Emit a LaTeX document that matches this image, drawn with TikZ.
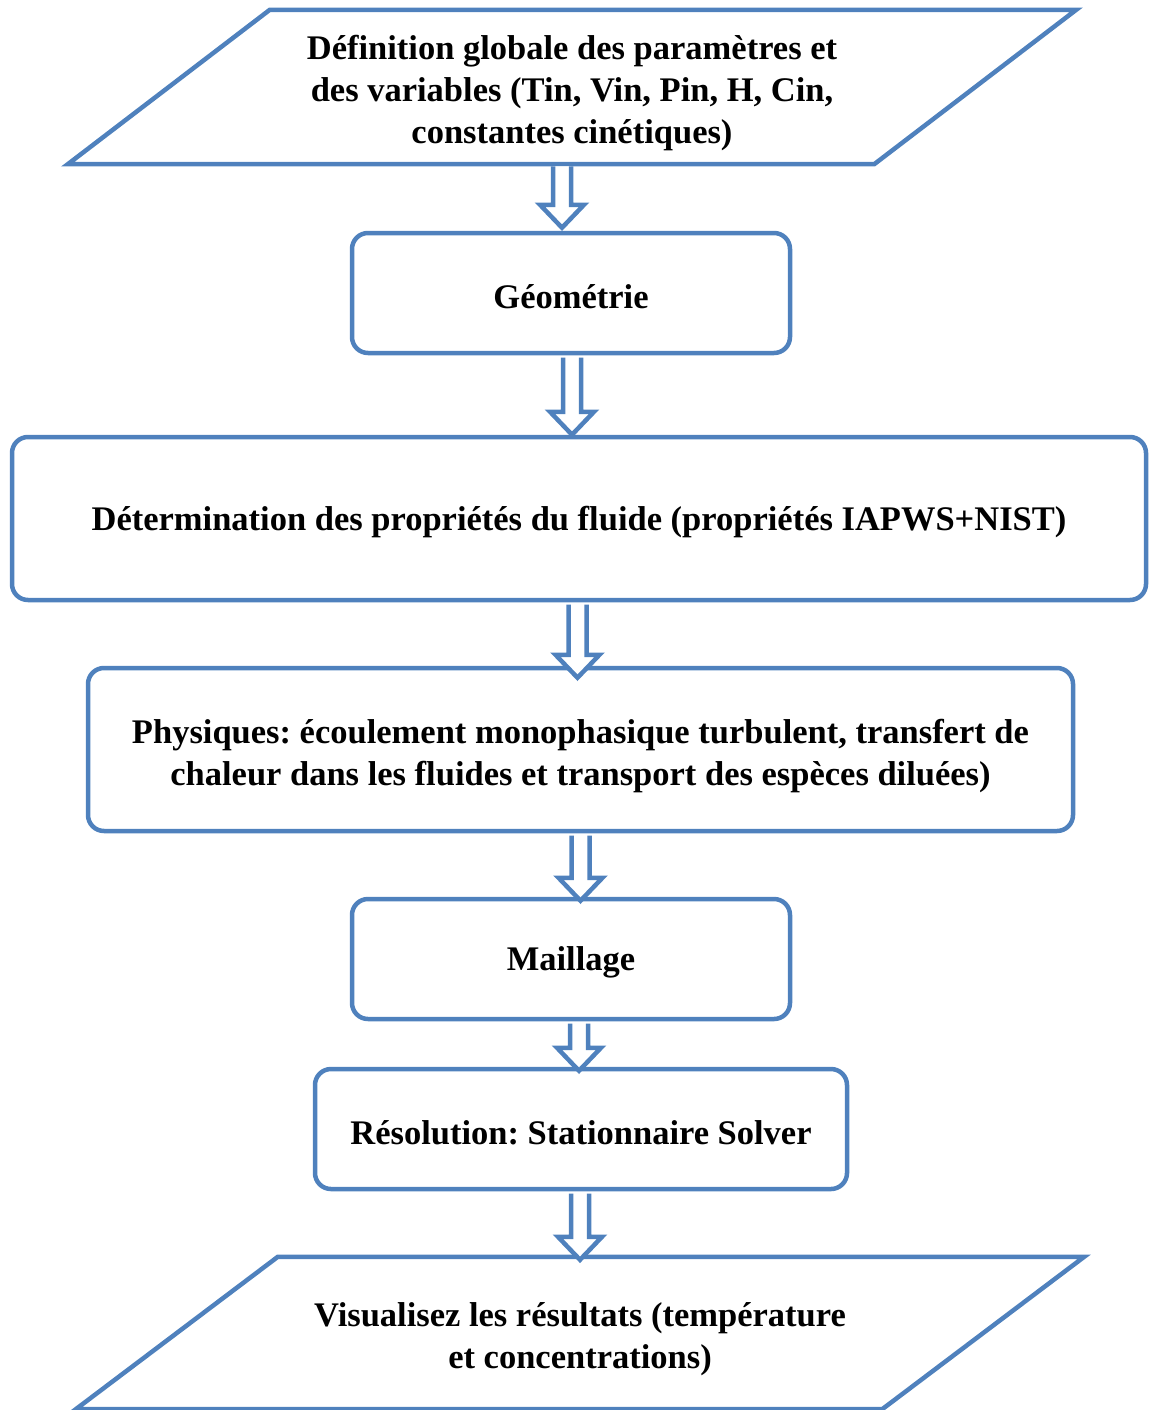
\documentclass[tikz,border=0pt]{standalone}
\usepackage{fontspec}
\setmainfont{Liberation Serif}
\usetikzlibrary{calc}
\definecolor{cBleu}{HTML}{4F81BD}
\frenchspacing
% premiere ligne un peu plus haute, pour descendre le texte
\newcommand{\haut}[1]{\rule{0pt}{#1}}

\begin{document}
\begin{tikzpicture}[
  x=1pt,y=-1pt,font=\fontsize{34.5}{42}\selectfont\bfseries,
  etape/.style={draw=cBleu,line width=4.5pt,rounded corners=16pt,align=center,inner sep=0pt},
  entree/.style={align=center,inner sep=0pt,minimum width=806pt},
  contour/.style={draw=cBleu,line width=4.5pt},
  fleche/.style={draw=cBleu,fill=white,line width=4.5pt,
    to path={let \p1=(\tikztostart),\p2=(\tikztotarget) in
      (\x1-9pt,\y1) -- (\x1-9pt,\y2+23pt) -- (\x1-22pt,\y2+23pt) -- (\x1,\y2)
      -- (\x1+22pt,\y2+23pt) -- (\x1+9pt,\y2+23pt) -- (\x1+9pt,\y1)}}
]
\useasboundingbox (0,0) rectangle (1148,1410);

% ---- donnees d'entree
\node[entree,minimum height=154pt] (def) at (572,87)
  {\haut{37pt}Définition globale des paramètres et\\ des variables (Tin, Vin, Pin, H, Cin,\\ constantes cinétiques)};
\draw[contour] ($(def.south west)+(-101,0)$) -- ($(def.south east)+(-101,0)$)
  -- ($(def.north east)+(101,0)$) -- ($(def.north west)+(101,0)$) -- cycle;

% ---- etapes du modele
\node[etape,minimum width=438pt,minimum height=120pt] (geo) at (571,293) {\haut{31pt}Géométrie};
\node[etape,minimum width=1134pt,minimum height=163pt] (prop) at (579,518.5)
  {\haut{31pt}Détermination des propriétés du fluide (propriétés IAPWS+NIST)};
\node[etape,minimum width=985pt,minimum height=163pt] (phys) at (580.5,749.5)
  {\haut{37pt}Physiques: écoulement monophasique turbulent, transfert de\\ chaleur dans les fluides et transport des espèces diluées)};
\node[etape,minimum width=438pt,minimum height=120pt] (mail) at (571,959) {\haut{31pt}Maillage};
\node[etape,minimum width=532pt,minimum height=120pt] (resol) at (581,1129) {\haut{31pt}Résolution: Stationnaire Solver};

% ---- sortie
\node[entree,minimum height=152pt] (visu) at (580,1333)
  {\haut{37pt}Visualisez les résultats (température\\ et concentrations)};
\draw[contour] ($(visu.south west)+(-101,0)$) -- ($(visu.south east)+(-101,0)$)
  -- ($(visu.north east)+(101,0)$) -- ($(visu.north west)+(101,0)$) -- cycle;

% ---- fleches
\draw[fleche] ([xshift=-10pt,yshift=-2.25pt]def.south) to ([yshift=3pt]geo.north);
\draw[fleche] ([xshift=1pt,yshift=-2.25pt]geo.south) to (prop.north);
\draw[fleche] ([xshift=-1.5pt,yshift=-2.25pt]prop.south) to ([yshift=-12pt]phys.north);
\draw[fleche] ([yshift=-2.25pt]phys.south) to ([yshift=-4pt]mail.north);
\draw[fleche] ([xshift=8pt,yshift=-2.25pt]mail.south) to ([yshift=-4pt]resol.north);
\draw[fleche] ([xshift=-1pt,yshift=-2.25pt]resol.south) to ([yshift=-3pt]visu.north);
\end{tikzpicture}
\end{document}
